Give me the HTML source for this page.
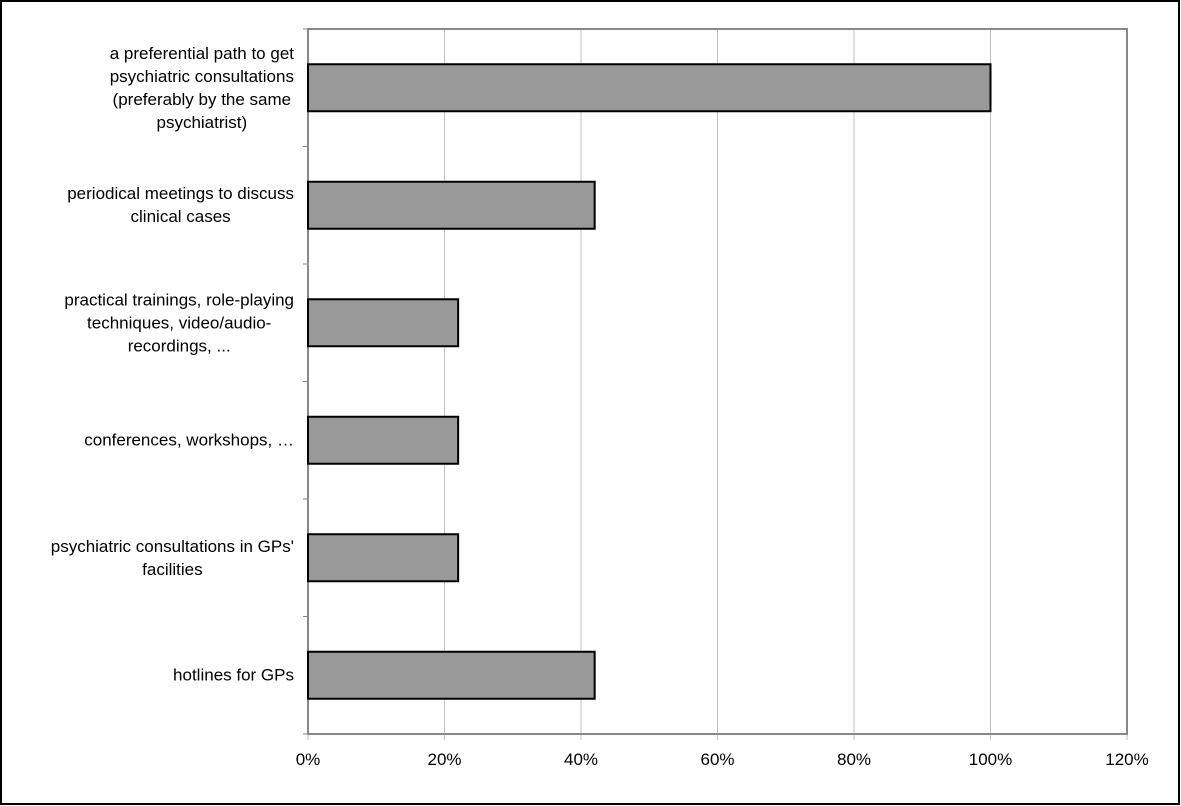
<!DOCTYPE html>
<html><head><meta charset="utf-8"><style>
body{margin:0;background:#fff}
#wrap{position:relative;width:1181px;height:806px;font-family:"Liberation Sans",Arial,sans-serif}
.lbl{position:absolute;right:887px;text-align:center;font-size:17px;line-height:23px;color:#000;white-space:nowrap;transform:translateY(-50%)}
</style></head><body>
<div id="wrap">
<svg id="svg" width="1181" height="806" style="position:absolute;left:0;top:0">
<rect x="1" y="1" width="1178" height="803" fill="none" stroke="#000" stroke-width="2"/>
</svg>
</div>
<script>
const categories=["a preferential path to get<br>psychiatric consultations<br>(preferably by the same<br>psychiatrist)","periodical meetings to discuss<br>clinical cases","practical trainings, role-playing<br>techniques, video/audio-<br>recordings, ...","conferences, workshops, …","psychiatric consultations in GPs'<br>facilities","hotlines for GPs"];
const values=[100,42,22,22,22,42];
const ticks=[0,20,40,60,80,100,120];
const tickLabels=["0%","20%","40%","60%","80%","100%","120%"];
const NS="http://www.w3.org/2000/svg";
const svg=document.getElementById('svg'),wrap=document.getElementById('wrap');
const X0=308,X1=1127,Y0=29,Y1=734,maxV=120;
const x=v=>X0+(X1-X0)*v/maxV;
const band=(Y1-Y0)/categories.length;
const y=i=>Y0+band*(i+0.5);
function mk(t,a,name){const e=document.createElementNS(NS,t);for(const k in a)e.setAttribute(k,a[k]);


svg.appendChild(e);return e;}
ticks.forEach((t,i)=>{
 if(t>0&&t<maxV) mk('line',{x1:x(t),x2:x(t),y1:Y0,y2:Y1,stroke:'#c0c0c0','stroke-width':1},'gridline');
 mk('line',{x1:x(t),x2:x(t),y1:Y1,y2:Y1+6,stroke:'#c0c0c0','stroke-width':1},'x-tick');
 const tx=mk('text',{x:x(t),y:765,'text-anchor':'middle','font-size':17,'font-family':'Liberation Sans, Arial, sans-serif'},'x-tick-label');
 tx.textContent=tickLabels[i];
});
mk('rect',{x:X0,y:Y0,width:X1-X0,height:Y1-Y0,fill:'none',stroke:'#888','stroke-width':2},'plot-frame');
for(let i=0;i<=categories.length;i++) mk('line',{x1:X0-5,x2:X0,y1:Y0+band*i,y2:Y0+band*i,stroke:'#888','stroke-width':1},'y-tick');
values.forEach((v,i)=>{
 mk('rect',{x:X0,y:y(i)-23.5,width:x(v)-X0,height:47,fill:'#999',stroke:'#000','stroke-width':2},'bar-'+(i+1));
 const d=document.createElement('div');d.className='lbl';d.style.top=(y(i)+i*0)+'px';d.innerHTML=categories[i];
 
 
 wrap.appendChild(d);
});
</script>
</body></html>
